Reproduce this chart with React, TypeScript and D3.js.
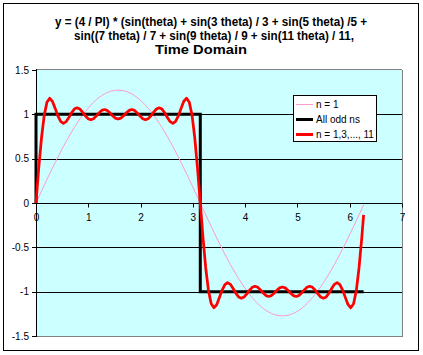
import React from "react";
import * as d3 from "d3";

// theta (radians), sampled every 3 degrees, plus a final point at 359 degrees
const theta = [0,0.052,0.105,0.157,0.209,0.262,0.314,0.367,0.419,0.471,0.524,0.576,0.628,0.681,0.733,0.785,0.838,0.890,0.942,0.995,1.047,1.100,1.152,1.204,1.257,1.309,1.361,1.414,1.466,1.518,1.571,1.623,1.676,1.728,1.780,1.833,1.885,1.937,1.990,2.042,2.094,2.147,2.199,2.251,2.304,2.356,2.409,2.461,2.513,2.566,2.618,2.670,2.723,2.775,2.827,2.880,2.932,2.985,3.037,3.089,3.142,3.194,3.246,3.299,3.351,3.403,3.456,3.508,3.560,3.613,3.665,3.718,3.770,3.822,3.875,3.927,3.979,4.032,4.084,4.136,4.189,4.241,4.294,4.346,4.398,4.451,4.503,4.555,4.608,4.660,4.712,4.765,4.817,4.869,4.922,4.974,5.027,5.079,5.131,5.184,5.236,5.288,5.341,5.393,5.445,5.498,5.550,5.603,5.655,5.707,5.760,5.812,5.864,5.917,5.969,6.021,6.074,6.126,6.178,6.231,6.266];

// n = 1
const seriesN1 = [0,0.067,0.133,0.199,0.265,0.330,0.393,0.456,0.518,0.578,0.637,0.693,0.748,0.801,0.852,0.900,0.946,0.989,1.030,1.068,1.103,1.134,1.163,1.189,1.211,1.230,1.245,1.258,1.266,1.271,1.273,
1.271,1.266,1.258,1.245,1.230,1.211,1.189,1.163,1.134,1.103,1.068,1.030,0.989,0.946,0.900,0.852,0.801,0.748,0.693,0.637,0.578,0.518,0.456,0.393,0.330,0.265,0.199,0.133,0.067,0,
-0.067,-0.133,-0.199,-0.265,-0.330,-0.393,-0.456,-0.518,-0.578,-0.637,-0.693,-0.748,-0.801,-0.852,-0.900,-0.946,-0.989,-1.030,-1.068,-1.103,-1.134,-1.163,-1.189,-1.211,-1.230,-1.245,-1.258,-1.266,-1.271,-1.273,
-1.271,-1.266,-1.258,-1.245,-1.230,-1.211,-1.189,-1.163,-1.134,-1.103,-1.068,-1.030,-0.989,-0.946,-0.900,-0.852,-0.801,-0.748,-0.693,-0.637,-0.578,-0.518,-0.456,-0.393,-0.330,-0.265,-0.199,-0.133,-0.067,
-0.022];

// n = 1,3,..., 11
const seriesN11 = [0,0.391,0.733,0.988,1.136,1.181,1.147,1.067,0.982,0.920,0.898,0.917,0.964,1.018,1.059,1.074,1.060,1.025,0.984,0.951,0.939,0.951,0.980,1.016,1.044,1.054,1.044,1.017,0.984,0.957,0.947,
0.957,0.984,1.017,1.044,1.054,1.044,1.016,0.980,0.951,0.939,0.951,0.984,1.025,1.060,1.074,1.059,1.018,0.964,0.917,0.898,0.920,0.982,1.067,1.147,1.181,1.136,0.988,0.733,0.391,0,
-0.391,-0.733,-0.988,-1.136,-1.181,-1.147,-1.067,-0.982,-0.920,-0.898,-0.917,-0.964,-1.018,-1.059,-1.074,-1.060,-1.025,-0.984,-0.951,-0.939,-0.951,-0.980,-1.016,-1.044,-1.054,-1.044,-1.017,-0.984,-0.957,-0.947,
-0.957,-0.984,-1.017,-1.044,-1.054,-1.044,-1.016,-0.980,-0.951,-0.939,-0.951,-0.984,-1.025,-1.060,-1.074,-1.059,-1.018,-0.964,-0.917,-0.898,-0.920,-0.982,-1.067,-1.147,-1.181,-1.136,-0.988,-0.733,-0.391,
-0.133];

// All odd ns (square wave)
const squareX = [0, 0, 3.142, 3.142, 6.266];
const squareY = [0, 1, 1, -1, -1];

const xTicks = [0, 1, 2, 3, 4, 5, 6, 7];
const yTicks = [1.5, 1, 0.5, 0, -0.5, -1, -1.5];
const gridValues = [1, 0.5, -0.5, -1];

const titleLines = [
  "y = (4 / PI) * (sin(theta) + sin(3 theta) / 3 + sin(5 theta) /5 +",
  "sin((7 theta) / 7 + sin(9 theta) / 9 + sin(11 theta) / 11,",
  "Time Domain",
];

const legendLabels = ["n = 1", "All odd ns", "n = 1,3,..., 11"];

export default function App() {
  const W = 423, H = 355;
  const L = 36, R = 402, T = 70, B = 336;
  const x = d3.scaleLinear().domain([0, 7]).range([L, R]);
  const y = d3.scaleLinear().domain([-1.5, 1.5]).range([B, T]);
  const px = (v: number) => Math.round(v) + 0.5;

  const line = d3.line<[number, number]>().x(d => x(d[0])).y(d => y(d[1]));
  const pinkPts = theta.map((t, i) => [t, seriesN1[i]] as [number, number]);
  const redPts = theta.map((t, i) => [t, seriesN11[i]] as [number, number]);
  const blackPts = squareX.map((t, i) => [t, squareY[i]] as [number, number]);

  const font = "'Liberation Sans', Arial, sans-serif";
  const titleGeom = [
    { cx: 211, y: 26, w: 312 },
    { cx: 214, y: 40, w: 280 },
    { cx: 201, y: 54, w: 92 },
  ];
  const legendColors = ["#FF99CC", "#000000", "#FF0000"];
  const legendWidths = [1, 3, 3];

  return (
    <svg width={W} height={H} style={{ position: "absolute", left: 0, top: 0, background: "#fff" }}>
      <rect x={3.5} y={3.5} width={415} height={347} fill="#fff" stroke="#000" strokeWidth={1} />
      {titleLines.map((t, i) => (
        <text key={i} x={titleGeom[i].cx} y={titleGeom[i].y} textAnchor="middle"
          fontFamily={font} fontWeight="bold" fontSize={12}
          textLength={titleGeom[i].w} lengthAdjust="spacingAndGlyphs">{t}</text>
      ))}
      <rect x={L} y={T} width={R - L} height={B - T} fill="#CCFFFF" />
      {gridValues.map(v => (
        <line key={v} x1={L} x2={R} y1={px(y(v))} y2={px(y(v))} stroke="#000" strokeWidth={1} />
      ))}
      <line x1={L} x2={R} y1={px(y(1.5)) - 1} y2={px(y(1.5)) - 1} stroke="#808080" />
      <line x1={L} x2={R + 1} y1={px(y(-1.5))} y2={px(y(-1.5))} stroke="#808080" />
      <line x1={px(R)} x2={px(R)} y1={T} y2={B + 1} stroke="#808080" />
      {/* axes */}
      <line x1={L} x2={R} y1={px(y(0))} y2={px(y(0))} stroke="#000" />
      <line x1={px(L)} x2={px(L)} y1={T - 1} y2={B + 1} stroke="#000" />
      {yTicks.map(v => (
        <g key={v}>
          <line x1={L - 4} x2={L} y1={px(y(v))} y2={px(y(v))} stroke="#000" />
          <text x={29} y={y(v) + 3.5} textAnchor="end" fontFamily={font} fontSize={10}>{v}</text>
        </g>
      ))}
      {xTicks.map(v => (
        <g key={v}>
          <line x1={px(x(v))} x2={px(x(v))} y1={px(y(0))} y2={px(y(0)) + 4} stroke="#000" />
          <text x={x(v) + 0.5} y={221} textAnchor="middle" fontFamily={font} fontSize={10}>{v}</text>
        </g>
      ))}
      {/* series */}
      <path d={line(pinkPts) || ""} fill="none" stroke="#FF99CC" strokeWidth={1} />
      <path d={line(blackPts) || ""} fill="none" stroke="#000" strokeWidth={3} />
      <path d={line(redPts) || ""} fill="none" stroke="#FF0000" strokeWidth={2.75} strokeLinejoin="round" />
      {/* legend */}
      <rect x={293.5} y={95.5} width={83} height={46} fill="#fff" stroke="#000" />
      {legendLabels.map((lab, i) => (
        <g key={lab}>
          <line x1={296} x2={313} y1={104.5 + i * 15} y2={104.5 + i * 15}
            stroke={legendColors[i]} strokeWidth={legendWidths[i]} />
          <text x={316} y={108 + i * 15} fontFamily={font} fontSize={10}>{lab}</text>
        </g>
      ))}
    </svg>
  );
}
